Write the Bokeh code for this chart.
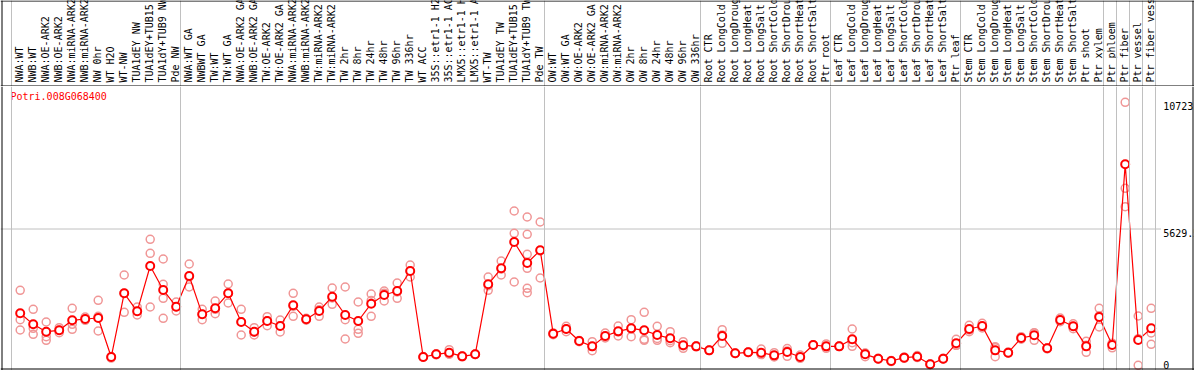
import math
from bokeh.plotting import figure
from bokeh.layouts import column
from bokeh.models import Range1d, Span, ColumnDataSource
from bokeh.embed import file_html
from bokeh.resources import INLINE
from bokeh.core.properties import value

gene = "Potri.008G068400"

samples = [
    "NWA:WT", "NWB:WT", "NWA:OE-ARK2", "NWB:OE-ARK2", "NWA:miRNA-ARK2", "NWB:miRNA-ARK2",
    "NW 0hr", "WT H2O", "WT-NW", "TUA1dEY NW", "TUA1dEY+TUB15 NW", "TUA1dY+TUB9 NW", "Pde NW",
    "NWA:WT GA", "NWBWT GA", "TW:WT", "TW:WT GA", "NWA:OE-ARK2 GA", "NWB:OE-ARK2 GA",
    "TW:OE-ARK2", "TW:OE-ARK2 GA", "NWA:miRNA-ARK2", "NWB:miRNA-ARK2", "TW:miRNA-ARK2",
    "TW:miRNA-ARK2", "TW 2hr", "TW 8hr", "TW 24hr", "TW 48hr", "TW 96hr", "TW 336hr", "WT ACC",
    "35S::etr1-1 H2O", "35S::etr1-1 ACC", "LMX5::etr1-1 H2O", "LMX5::etr1-1 ACC", "WT-TW",
    "TUA1dEY TW", "TUA1dEY+TUB15 TW", "TUA1dY+TUB9 TW", "Pde TW",
    "OW:WT", "OW:WT GA", "OW:OE-ARK2", "OW:OE-ARK2 GA", "OW:miRNA-ARK2", "OW:miRNA-ARK2",
    "OW 2hr", "OW 8hr", "OW 24hr", "OW 48hr", "OW 96hr", "OW 336hr",
    "Root CTR", "Root LongCold", "Root LongDrought", "Root LongHeat", "Root LongSalt",
    "Root ShortCold", "Root ShortDrought", "Root ShortHeat", "Root ShortSalt", "Ptr root",
    "Leaf CTR", "Leaf LongCold", "Leaf LongDrought", "Leaf LongHeat", "Leaf LongSalt",
    "Leaf ShortCold", "Leaf ShortDrought", "Leaf ShortHeat", "Leaf ShortSalt", "Ptr leaf",
    "Stem CTR", "Stem LongCold", "Stem LongDrought", "Stem LongHeat", "Stem LongSalt",
    "Stem ShortCold", "Stem ShortDrought", "Stem ShortHeat", "Stem ShortSalt", "Ptr shoot",
    "Ptr xylem", "Ptr phloem", "Ptr fiber", "Ptr vessel", "Ptr fiber vessel",
]

group_sizes = [13, 28, 12, 10, 10, 11, 1, 1, 1, 1]

means = [
    2240, 1796, 1501, 1555, 1957, 2011, 2051, 482, 3044, 2320, 4142, 3177, 2506,
    3740, 2198, 2440, 3044, 1890, 1501, 1930, 1729, 2561, 1998, 2332, 2907, 2171,
    1930, 2627, 2976, 3137, 3941, 482, 590, 657, 509, 590, 3406, 4049, 5107, 4262, 4772,
    1421, 1608, 1126, 911, 1327, 1514, 1635, 1555, 1367, 1233, 952, 911,
    750, 1327, 630, 670, 657, 549, 683, 482, 965, 911,
    911, 1193, 590, 415, 322, 456, 496, 188, 415, 1032,
    1608, 1729, 750, 657, 1247, 1354, 831, 1970, 1716, 911, 2091,
    965, 8230, 1166, 1635,
]

replicates = [
    [3164, 1983, 1568], [2400, 1636, 1394], [1890, 1300, 1153], [1662, 1461, 1555],
    [2440, 1796, 1595], [2091, 1957, 2000], [2762, 2118, 1528], [470, 500, 440],
    [3780, 2280, 3050], [2493, 2171, 2320], [5215, 4652, 2493], [4423, 3406, 2843, 2038],
    [2694, 2332, 2500], [4222, 3297, 3700], [2400, 1983, 2200], [2734, 2225, 2400],
    [3418, 2654, 3060], [2400, 1367, 1900], [1662, 1367, 1480], [2104, 1743, 1940],
    [1970, 1488, 1730], [3044, 2118, 2520], [2040, 1960, 1990], [2493, 2118, 2380],
    [3257, 2600, 2860], [3297, 1983, 1206], [2694, 1595, 1434], [3016, 2118, 2750],
    [3137, 2734, 3050], [3458, 2843, 3100], [4182, 3699, 3940], [470, 500, 480],
    [610, 570, 590], [777, 600, 600], [520, 490, 515], [600, 580, 590],
    [3699, 3164, 3350], [4343, 3780, 4020], [6353, 5456, 3498],
    [6112, 5416, 4612, 4049, 3245, 3069], [5911, 3659, 4750],
    [1450, 1380, 1430], [1716, 1500, 1610], [1150, 1100, 1130], [1099, 737, 900],
    [1448, 1250, 1290], [1729, 1327, 1490], [1983, 1300, 1620], [2280, 1193, 1153],
    [1716, 1153, 1230], [1501, 1058, 1140], [1099, 831, 930], [930, 890, 910],
    [760, 740, 750], [1582, 1032, 1370], [640, 620, 630], [680, 660, 670],
    [804, 580, 590], [657, 482, 510], [720, 509, 820], [560, 460, 430],
    [980, 950, 965], [1010, 830, 900],
    [920, 900, 910], [1608, 911, 1060], [630, 496, 640], [430, 400, 415],
    [340, 300, 325], [480, 430, 460], [540, 460, 490], [200, 180, 185],
    [430, 400, 415], [1193, 950, 950],
    [1756, 1500, 1570], [1837, 1650, 1700], [857, 496, 897], [680, 640, 650],
    [1300, 1200, 1240], [1450, 1153, 1460], [850, 810, 830], [2050, 1900, 1960],
    [1820, 1620, 1710], [1112, 670, 950], [2440, 1689, 2140],
    [1000, 850, 1040], [10723, 7266, 6527], [2131, 148, 1220], [2440, 1448, 993],
]

# ---------------- layout constants ----------------
W = 1194
H_HEAD = 86
H_MAIN = 284
STEP = 13.0        # pixels per sample
FIRST = 19.7       # pixel of first sample
FONT = value("DejaVu Sans Mono")
GRID = "#c0c0c0"
RED = "#ff0000"
PINK = "#f09696"

N = len(samples)
x0 = -FIRST / STEP
x_range = Range1d(x0, x0 + W / STEP)


def px(p):
    return x0 + p / STEP


all_reps = [v for r in replicates for v in r]
YMAX = max(all_reps) * 1.05
ppx = YMAX / 280.0
y_range = Range1d(-1.5 * ppx, YMAX + 2.5 * ppx)

# separators between groups
seps = [-1]
acc = -1
for g in group_sizes:
    acc += g
    seps.append(acc)
sep_x = [s + 0.33 for s in seps]


def base_fig(h, yr):
    f = figure(width=W, height=h, x_range=x_range, y_range=yr,
               output_backend="svg", toolbar_location=None,
               x_axis_type=None, y_axis_type=None, min_border=0,
               outline_line_color=None, background_fill_color="white",
               border_fill_color="white")
    f.xgrid.visible = False
    f.ygrid.visible = False
    return f


# ---------------- header ----------------
head = base_fig(H_HEAD, Range1d(0, H_HEAD))
for sx in sep_x:
    head.add_layout(Span(location=sx, dimension="height", line_color=GRID, line_width=1))
head_src = ColumnDataSource(dict(x=list(range(N)), text=samples))
head.text(x="x", y=4, text="text", source=head_src, angle=math.pi / 2,
          text_align="left", text_baseline="middle", x_offset=-1,
          text_font=FONT, text_font_size="10px", text_color="black")
head.add_layout(Span(location=H_HEAD - 0.5, dimension="width", line_color="black", line_width=1))
head.add_layout(Span(location=0.5, dimension="width", line_color="black", line_width=1))
head.add_layout(Span(location=px(1.5), dimension="height", line_color="black", line_width=1))
head.add_layout(Span(location=px(1192.5), dimension="height", line_color="black", line_width=1))

# ---------------- main plot ----------------
p = base_fig(H_MAIN, y_range)
for sx in sep_x:
    p.add_layout(Span(location=sx, dimension="height", line_color=GRID, line_width=1))
p.segment(x0=[x_range.start], y0=[YMAX / 2], x1=[N - 1 + 0.75], y1=[YMAX / 2],
          line_color=GRID, line_width=1)

rx, ry = [], []
for i, r in enumerate(replicates):
    for v in r:
        rx.append(i)
        ry.append(v)
p.scatter(rx, ry, marker="circle", size=8, fill_color=None,
          line_color=PINK, line_width=1.5)
xs = list(range(N))
p.line(xs, means, line_color=RED, line_width=1.2)
p.scatter(xs, means, marker="circle", size=8, fill_color="white",
          line_color=RED, line_width=2)

p.text(x=[sep_x[0]], y=[YMAX], text=[gene], text_align="left", text_baseline="top",
       x_offset=-1, y_offset=2, text_font=FONT, text_font_size="10px", text_color=RED)

vmax = max(all_reps)
p.text(x=[N - 1, N - 1], y=[vmax, YMAX / 2],
       text=[f"{vmax:g}", f"{YMAX / 2:.3f}"], text_align="left", text_baseline="top",
       x_offset=12, text_font=FONT, text_font_size="10px", text_color="black")
p.text(x=[N - 1], y=[0], text=["0"], text_align="left", text_baseline="bottom",
       x_offset=12, text_font=FONT, text_font_size="10px", text_color="black")

p.add_layout(Span(location=0, dimension="width", line_color="black", line_width=1))
p.add_layout(Span(location=px(1.5), dimension="height", line_color="black", line_width=1))
p.add_layout(Span(location=px(1192.5), dimension="height", line_color="black", line_width=1))

layout = column(head, p, spacing=0)

open("out.html", "w").write(file_html(layout, INLINE))
